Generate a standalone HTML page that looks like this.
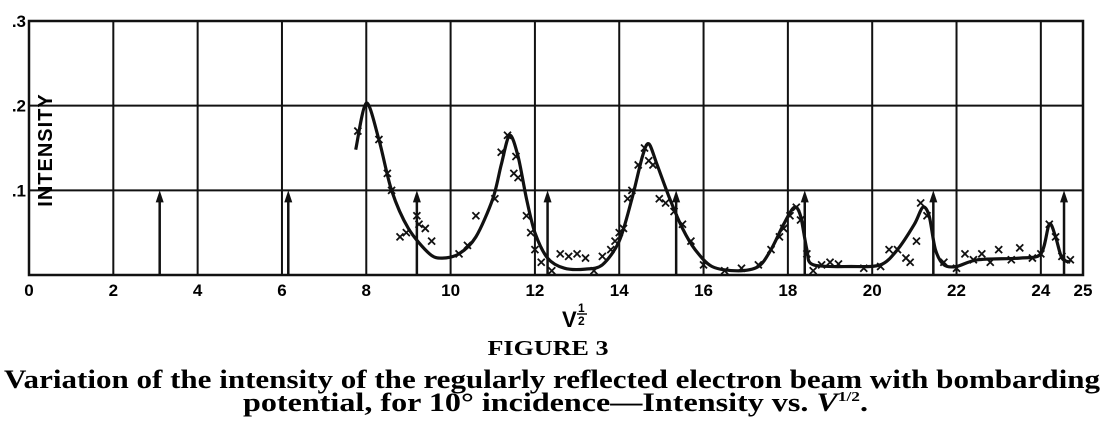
<!DOCTYPE html>
<html><head><meta charset="utf-8"><style>
html,body{margin:0;padding:0;background:#fff;}
svg{display:block;}
</style></head><body>
<svg id="chart" width="1107" height="437" viewBox="0 0 1107 437" xmlns="http://www.w3.org/2000/svg">
<g id="grid"></g>
<g id="arrows"></g>
<g id="series"></g>
<g id="labels"></g>
<text transform="translate(52,150) rotate(-90)" text-anchor="middle" font-family="Liberation Sans, sans-serif" font-weight="bold" font-size="20" letter-spacing="1">INTENSITY</text>
<text x="562" y="327" font-family="Liberation Sans, sans-serif" font-weight="bold" font-size="22">V</text>
<text x="578" y="312" font-family="Liberation Sans, sans-serif" font-weight="bold" font-size="12">1</text>
<line x1="577" y1="314" x2="587" y2="314" stroke="#111" stroke-width="1.5"/>
<text x="578" y="325" font-family="Liberation Sans, sans-serif" font-weight="bold" font-size="12">2</text>
<text x="548" y="355" text-anchor="middle" textLength="121" lengthAdjust="spacingAndGlyphs" font-family="Liberation Serif, serif" font-weight="bold" font-size="21">FIGURE 3</text>
<text x="4" y="388" textLength="1096" lengthAdjust="spacingAndGlyphs" font-family="Liberation Serif, serif" font-weight="bold" font-size="26">Variation of the intensity of the regularly reflected electron beam with bombarding</text>
<text x="243" y="411" textLength="625" lengthAdjust="spacingAndGlyphs" font-family="Liberation Serif, serif" font-weight="bold" font-size="26">potential, for 10° incidence—Intensity vs. <tspan font-style="italic">V</tspan><tspan font-size="14" dy="-10">1/2</tspan><tspan dy="10">.</tspan></text>
</svg>
<script>
const xTicks=[0,2,4,6,8,10,12,14,16,18,20,22,24,25];
const yTicks=[0.1,0.2,0.3];
const yTickLabels=['.1','.2','.3'];
const arrowPositions=[3.1,6.15,9.2,12.3,15.35,18.4,21.45,24.55];
const arrowHeight=0.1;
const curveX=[7.75,8.0,8.3,8.6,9.0,9.5,9.8,10.2,10.6,11.0,11.2,11.4,11.6,11.8,12.0,12.3,12.7,13.2,13.6,14.0,14.3,14.55,14.7,14.9,15.2,15.5,15.8,16.2,16.8,17.3,17.6,17.9,18.15,18.3,18.45,18.6,19.5,20.2,20.6,21.0,21.2,21.35,21.5,21.7,22.0,22.5,23.5,24.0,24.2,24.35,24.5,24.7];
const curveY=[0.148,0.203,0.16,0.1,0.055,0.025,0.02,0.025,0.045,0.09,0.13,0.165,0.14,0.09,0.05,0.02,0.008,0.007,0.012,0.04,0.09,0.14,0.155,0.13,0.09,0.055,0.03,0.01,0.005,0.01,0.03,0.06,0.08,0.07,0.03,0.012,0.01,0.012,0.03,0.06,0.08,0.07,0.03,0.012,0.01,0.018,0.02,0.025,0.06,0.045,0.02,0.015];
const obsX=[7.8,8.3,8.5,8.6,8.8,8.95,9.2,9.25,9.4,9.55,10.2,10.4,10.6,11.05,11.2,11.35,11.55,11.5,11.6,11.8,11.9,12.0,12.15,12.4,12.6,12.8,13.0,13.2,13.4,13.6,13.8,13.9,14.0,14.1,14.2,14.3,14.45,14.6,14.7,14.8,14.95,15.1,15.3,15.5,15.7,16.0,16.5,16.9,17.3,17.6,17.8,17.9,18.05,18.2,18.3,18.45,18.6,18.8,19.0,19.2,19.8,20.2,20.4,20.6,20.8,20.9,21.05,21.15,21.3,21.7,22.0,22.2,22.4,22.6,22.8,23.0,23.3,23.5,23.8,24.0,24.2,24.35,24.5,24.7];
const obsY=[0.17,0.16,0.12,0.1,0.045,0.05,0.07,0.06,0.055,0.04,0.025,0.035,0.07,0.09,0.145,0.165,0.14,0.12,0.115,0.07,0.05,0.03,0.015,0.005,0.025,0.022,0.025,0.02,0.005,0.022,0.03,0.04,0.05,0.055,0.09,0.1,0.13,0.15,0.135,0.13,0.09,0.085,0.075,0.06,0.04,0.012,0.005,0.008,0.012,0.03,0.045,0.055,0.07,0.08,0.065,0.025,0.005,0.012,0.015,0.013,0.008,0.01,0.03,0.03,0.02,0.015,0.04,0.085,0.07,0.015,0.008,0.025,0.018,0.025,0.015,0.03,0.018,0.032,0.02,0.025,0.06,0.045,0.022,0.018];
const NS='http://www.w3.org/2000/svg';
const X0=29,X1=1083,Y0=275,Y1=21,XMAX=25,YMAX=0.3;
function sx(v){return X0+v*(X1-X0)/XMAX;}
function sy(v){return Y0-v*(Y0-Y1)/YMAX;}
function mk(tag,attrs,parent){const e=document.createElementNS(NS,tag);for(const k in attrs)e.setAttribute(k,attrs[k]);parent.appendChild(e);return e;}
const grid=document.getElementById('grid');
const frame=mk('rect',{x:X0,y:Y1,width:X1-X0,height:Y0-Y1,fill:'none',stroke:'#111','stroke-width':2.5},grid);


xTicks.forEach(t=>{
  if(t>0&&t<XMAX){const l=mk('line',{x1:sx(t),x2:sx(t),y1:Y1,y2:Y0,stroke:'#111','stroke-width':2},grid);
  
  }
  const tx=mk('text',{x:sx(t),y:Y0+21,'text-anchor':'middle','font-family':'Liberation Sans, sans-serif','font-weight':'bold','font-size':17},document.getElementById('labels'));
  tx.textContent=t;
  
  
});
yTicks.forEach((t,i)=>{
  if(t<YMAX){const l=mk('line',{x1:X0,x2:X1,y1:sy(t),y2:sy(t),stroke:'#111','stroke-width':2},grid);
  
  }
  const tx=mk('text',{x:X0-3,y:sy(t)+6,'text-anchor':'end','font-family':'Liberation Sans, sans-serif','font-weight':'bold','font-size':17},document.getElementById('labels'));
  tx.textContent=yTickLabels[i];
  
  
});
const ag=document.getElementById('arrows');
arrowPositions.forEach(a=>{
  const x=sx(a),yt=sy(arrowHeight);
  const l=mk('line',{x1:x,x2:x,y1:Y0,y2:yt+8,stroke:'#111','stroke-width':2.5},ag);
  
  
  const p=mk('polygon',{points:`${x-4},${yt+12} ${x+4},${yt+12} ${x},${yt}`,fill:'#111'},ag);
  
  
});
const sg=document.getElementById('series');
const P=curveX.map((v,i)=>[sx(v),sy(curveY[i])]);
let d='M'+P[0][0].toFixed(1)+','+P[0][1].toFixed(1);
for(let i=0;i<P.length-1;i++){
  const p0=P[Math.max(i-1,0)],p1=P[i],p2=P[i+1],p3=P[Math.min(i+2,P.length-1)];
  const t=0.3;
  const c1=[p1[0]+(p2[0]-p0[0])*t/1.5*0.75,p1[1]+(p2[1]-p0[1])*t/1.5*0.75];
  const c2=[p2[0]-(p3[0]-p1[0])*t/1.5*0.75,p2[1]-(p3[1]-p1[1])*t/1.5*0.75];
  d+=` C${c1[0].toFixed(1)},${c1[1].toFixed(1)} ${c2[0].toFixed(1)},${c2[1].toFixed(1)} ${p2[0].toFixed(1)},${p2[1].toFixed(1)}`;
}
const path=mk('path',{d:d,fill:'none',stroke:'#111','stroke-width':3.2,'stroke-linejoin':'round'},sg);


obsX.forEach((v,i)=>{
  const x=sx(v),y=sy(obsY[i]),r=3.5;
  const c=mk('path',{d:`M${x-r},${y-r} L${x+r},${y+r} M${x+r},${y-r} L${x-r},${y+r}`,stroke:'#111','stroke-width':1.8},sg);
  
  
});
</script>
</body></html>
